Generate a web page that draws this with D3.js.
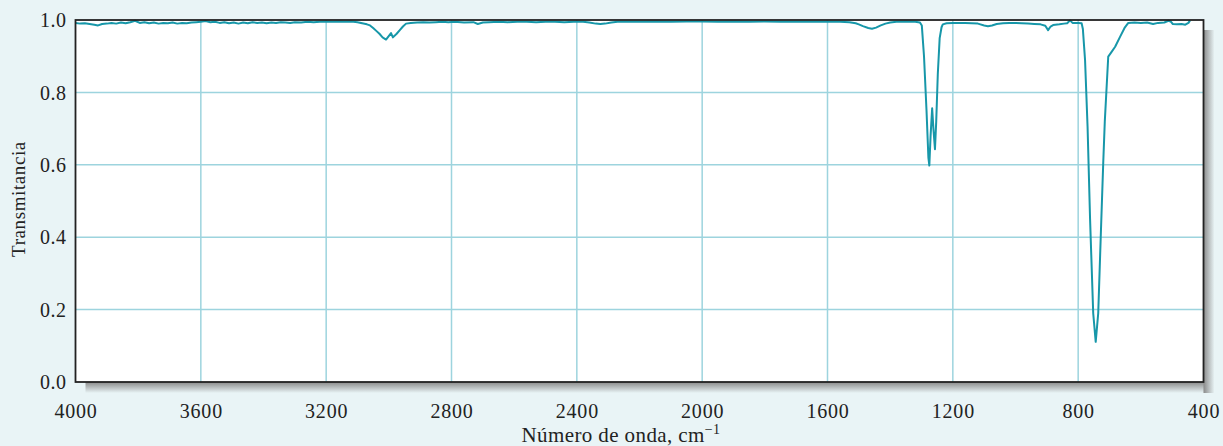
<!DOCTYPE html>
<html><head><meta charset="utf-8">
<script src="https://cdn.jsdelivr.net/npm/d3@7"></script>
<style>
html,body{margin:0;padding:0;background:#e9f4f6;}
svg{display:block;}
</style></head>
<body>
<svg id="chart" width="1223" height="446"></svg>
<script>
const wavenumber = [4000,3985,3970,3955,3940,3928,3915,3900,3885,3870,3855,3840,3825,3810,3795,3780,3765,3750,3735,3720,3705,3690,3675,3660,3645,3630,3615,3600,3585,3570,3555,3540,3525,3510,3495,3480,3465,3450,3435,3420,3405,3390,3375,3360,3345,3330,3315,3300,3280,3260,3240,3220,3200,3180,3160,3140,3120,3100,3085,3070,3060,3050,3040,3030,3020,3009,2993,2987,2975,2965,2955,2945,2930,2910,2890,2870,2850,2830,2810,2790,2760,2730,2716,2700,2680,2650,2620,2590,2560,2530,2500,2470,2440,2410,2380,2360,2340,2325,2310,2290,2270,2240,2200,2150,2100,2050,2000,1950,1900,1850,1800,1750,1700,1650,1600,1560,1530,1510,1500,1487,1470,1458,1445,1430,1415,1400,1380,1350,1320,1305,1299,1292,1284,1278,1275,1271,1266,1262,1257,1253,1248,1242,1236,1232,1220,1200,1180,1160,1140,1120,1100,1088,1075,1060,1040,1020,1000,980,960,940,920,905,896,888,880,860,845,835,826,818,800,789,785,778,770,762,752,744,736,728,720,715,704,695,682,666,652,640,620,600,580,561,545,525,512,505,498,485,470,458,448,443];
const transmittance = [0.992,0.990,0.991,0.989,0.987,0.985,0.989,0.990,0.992,0.990,0.993,0.991,0.994,0.998,0.992,0.994,0.991,0.993,0.990,0.992,0.991,0.993,0.990,0.992,0.991,0.993,0.994,0.995,0.997,0.994,0.995,0.992,0.994,0.991,0.993,0.990,0.993,0.991,0.994,0.992,0.993,0.991,0.993,0.992,0.994,0.993,0.992,0.994,0.993,0.995,0.994,0.995,0.996,0.995,0.996,0.995,0.996,0.994,0.991,0.988,0.985,0.978,0.970,0.962,0.952,0.946,0.964,0.952,0.962,0.972,0.982,0.990,0.992,0.993,0.994,0.993,0.994,0.995,0.994,0.995,0.993,0.994,0.989,0.993,0.994,0.995,0.994,0.995,0.995,0.994,0.995,0.995,0.994,0.995,0.995,0.993,0.990,0.989,0.990,0.993,0.995,0.995,0.995,0.996,0.995,0.996,0.996,0.995,0.996,0.995,0.996,0.995,0.995,0.995,0.995,0.995,0.994,0.991,0.988,0.983,0.978,0.976,0.979,0.985,0.990,0.993,0.995,0.996,0.995,0.993,0.985,0.900,0.750,0.620,0.598,0.680,0.756,0.700,0.643,0.720,0.850,0.950,0.980,0.988,0.991,0.992,0.992,0.992,0.991,0.990,0.985,0.983,0.985,0.989,0.991,0.992,0.992,0.991,0.990,0.989,0.988,0.984,0.972,0.982,0.986,0.988,0.990,0.991,0.999,0.992,0.992,0.991,0.975,0.889,0.705,0.450,0.190,0.111,0.190,0.400,0.605,0.720,0.899,0.910,0.926,0.954,0.978,0.992,0.993,0.992,0.993,0.989,0.992,0.993,0.998,0.996,0.989,0.988,0.989,0.987,0.992,0.999];
const xTicks = [4000,3600,3200,2800,2400,2000,1600,1200,800,400];
const yTicks = [0.0,0.2,0.4,0.6,0.8,1.0];

const svg = d3.select("#chart");
const L = 75.5, R = 1203.5, T = 20, B = 382;
const x = d3.scaleLinear().domain([4000,400]).range([L,R]);
const y = d3.scaleLinear().domain([0,1]).range([B,T]);

const defs = svg.append("defs");
const gb = defs.append("linearGradient").attr("id","shB").attr("x1",0).attr("y1",0).attr("x2",0).attr("y2",1);
gb.append("stop").attr("offset","0%").attr("stop-color","#8a8a8a");
gb.append("stop").attr("offset","100%").attr("stop-color","#e9f4f6");
const gr = defs.append("linearGradient").attr("id","shR").attr("x1",0).attr("y1",0).attr("x2",1).attr("y2",0);
gr.append("stop").attr("offset","0%").attr("stop-color","#8a8a8a");
gr.append("stop").attr("offset","100%").attr("stop-color","#e9f4f6");

svg.append("rect").attr("x",L+10).attr("y",B).attr("width",R-L).attr("height",11).attr("fill","url(#shB)");
svg.append("rect").attr("x",R).attr("y",T+10).attr("width",11).attr("height",B-T+1).attr("fill","url(#shR)");

svg.append("rect").attr("x",L).attr("y",T).attr("width",R-L).attr("height",B-T).attr("fill","#ffffff");

// grid
const grid = svg.append("g");
grid.selectAll("line.v").data(xTicks.filter(d=>d<4000&&d>400)).enter().append("line")
  .attr("x1",d=>x(d)).attr("x2",d=>x(d)).attr("y1",T).attr("y2",B)
  .attr("stroke","#9dd4de").attr("stroke-width",1.5);
grid.selectAll("line.h").data(yTicks.filter(d=>d>0&&d<1)).enter().append("line")
  .attr("x1",L).attr("x2",R).attr("y1",d=>y(d)).attr("y2",d=>y(d))
  .attr("stroke","#9dd4de").attr("stroke-width",1.5);

// spectrum
const pts = wavenumber.map((w,i)=>[w,transmittance[i]]);
svg.append("path").datum(pts)
  .attr("d", d3.line().x(d=>x(d[0])).y(d=>y(d[1])))
  .attr("fill","none").attr("stroke","#1797a9").attr("stroke-width",2).attr("stroke-linejoin","round");

// frame
svg.append("rect").attr("x",L).attr("y",T).attr("width",R-L).attr("height",B-T)
  .attr("fill","none").attr("stroke","#222").attr("stroke-width",1.8);

const font = "'Liberation Serif','Times New Roman',serif";
// axes
const xa = svg.append("g").attr("transform",`translate(0,${B})`)
  .call(d3.axisBottom(x).tickValues(xTicks).tickSize(0).tickPadding(0).tickFormat(d3.format("d")));
xa.select(".domain").remove();
xa.selectAll("text").attr("dy",0).attr("y",36).attr("font-family",font).attr("font-size",20)
  .attr("letter-spacing","0.8px").attr("fill","#222");

const ya = svg.append("g").attr("transform",`translate(${L},0)`)
  .call(d3.axisLeft(y).tickValues(yTicks).tickSize(0).tickPadding(9).tickFormat(d3.format(".1f")));
ya.select(".domain").remove();
ya.selectAll("text").attr("font-family",font).attr("font-size",20).attr("letter-spacing","0.5px")
  .attr("fill","#222").attr("dy","0.33em");

// titles
const xt = svg.append("text").attr("x",621).attr("y",442).attr("text-anchor","middle")
  .attr("font-family",font).attr("font-size",21).attr("letter-spacing","0.4px").attr("fill","#222");
xt.append("tspan").text("Número de onda, cm");
xt.append("tspan").attr("dy",-8).attr("font-size",14).text("−1");

svg.append("text").attr("transform","translate(25,199) rotate(-90)").attr("text-anchor","middle")
  .attr("font-family",font).attr("font-size",19).attr("letter-spacing","0.6px").attr("fill","#222").text("Transmitancia");
</script>
</body></html>
